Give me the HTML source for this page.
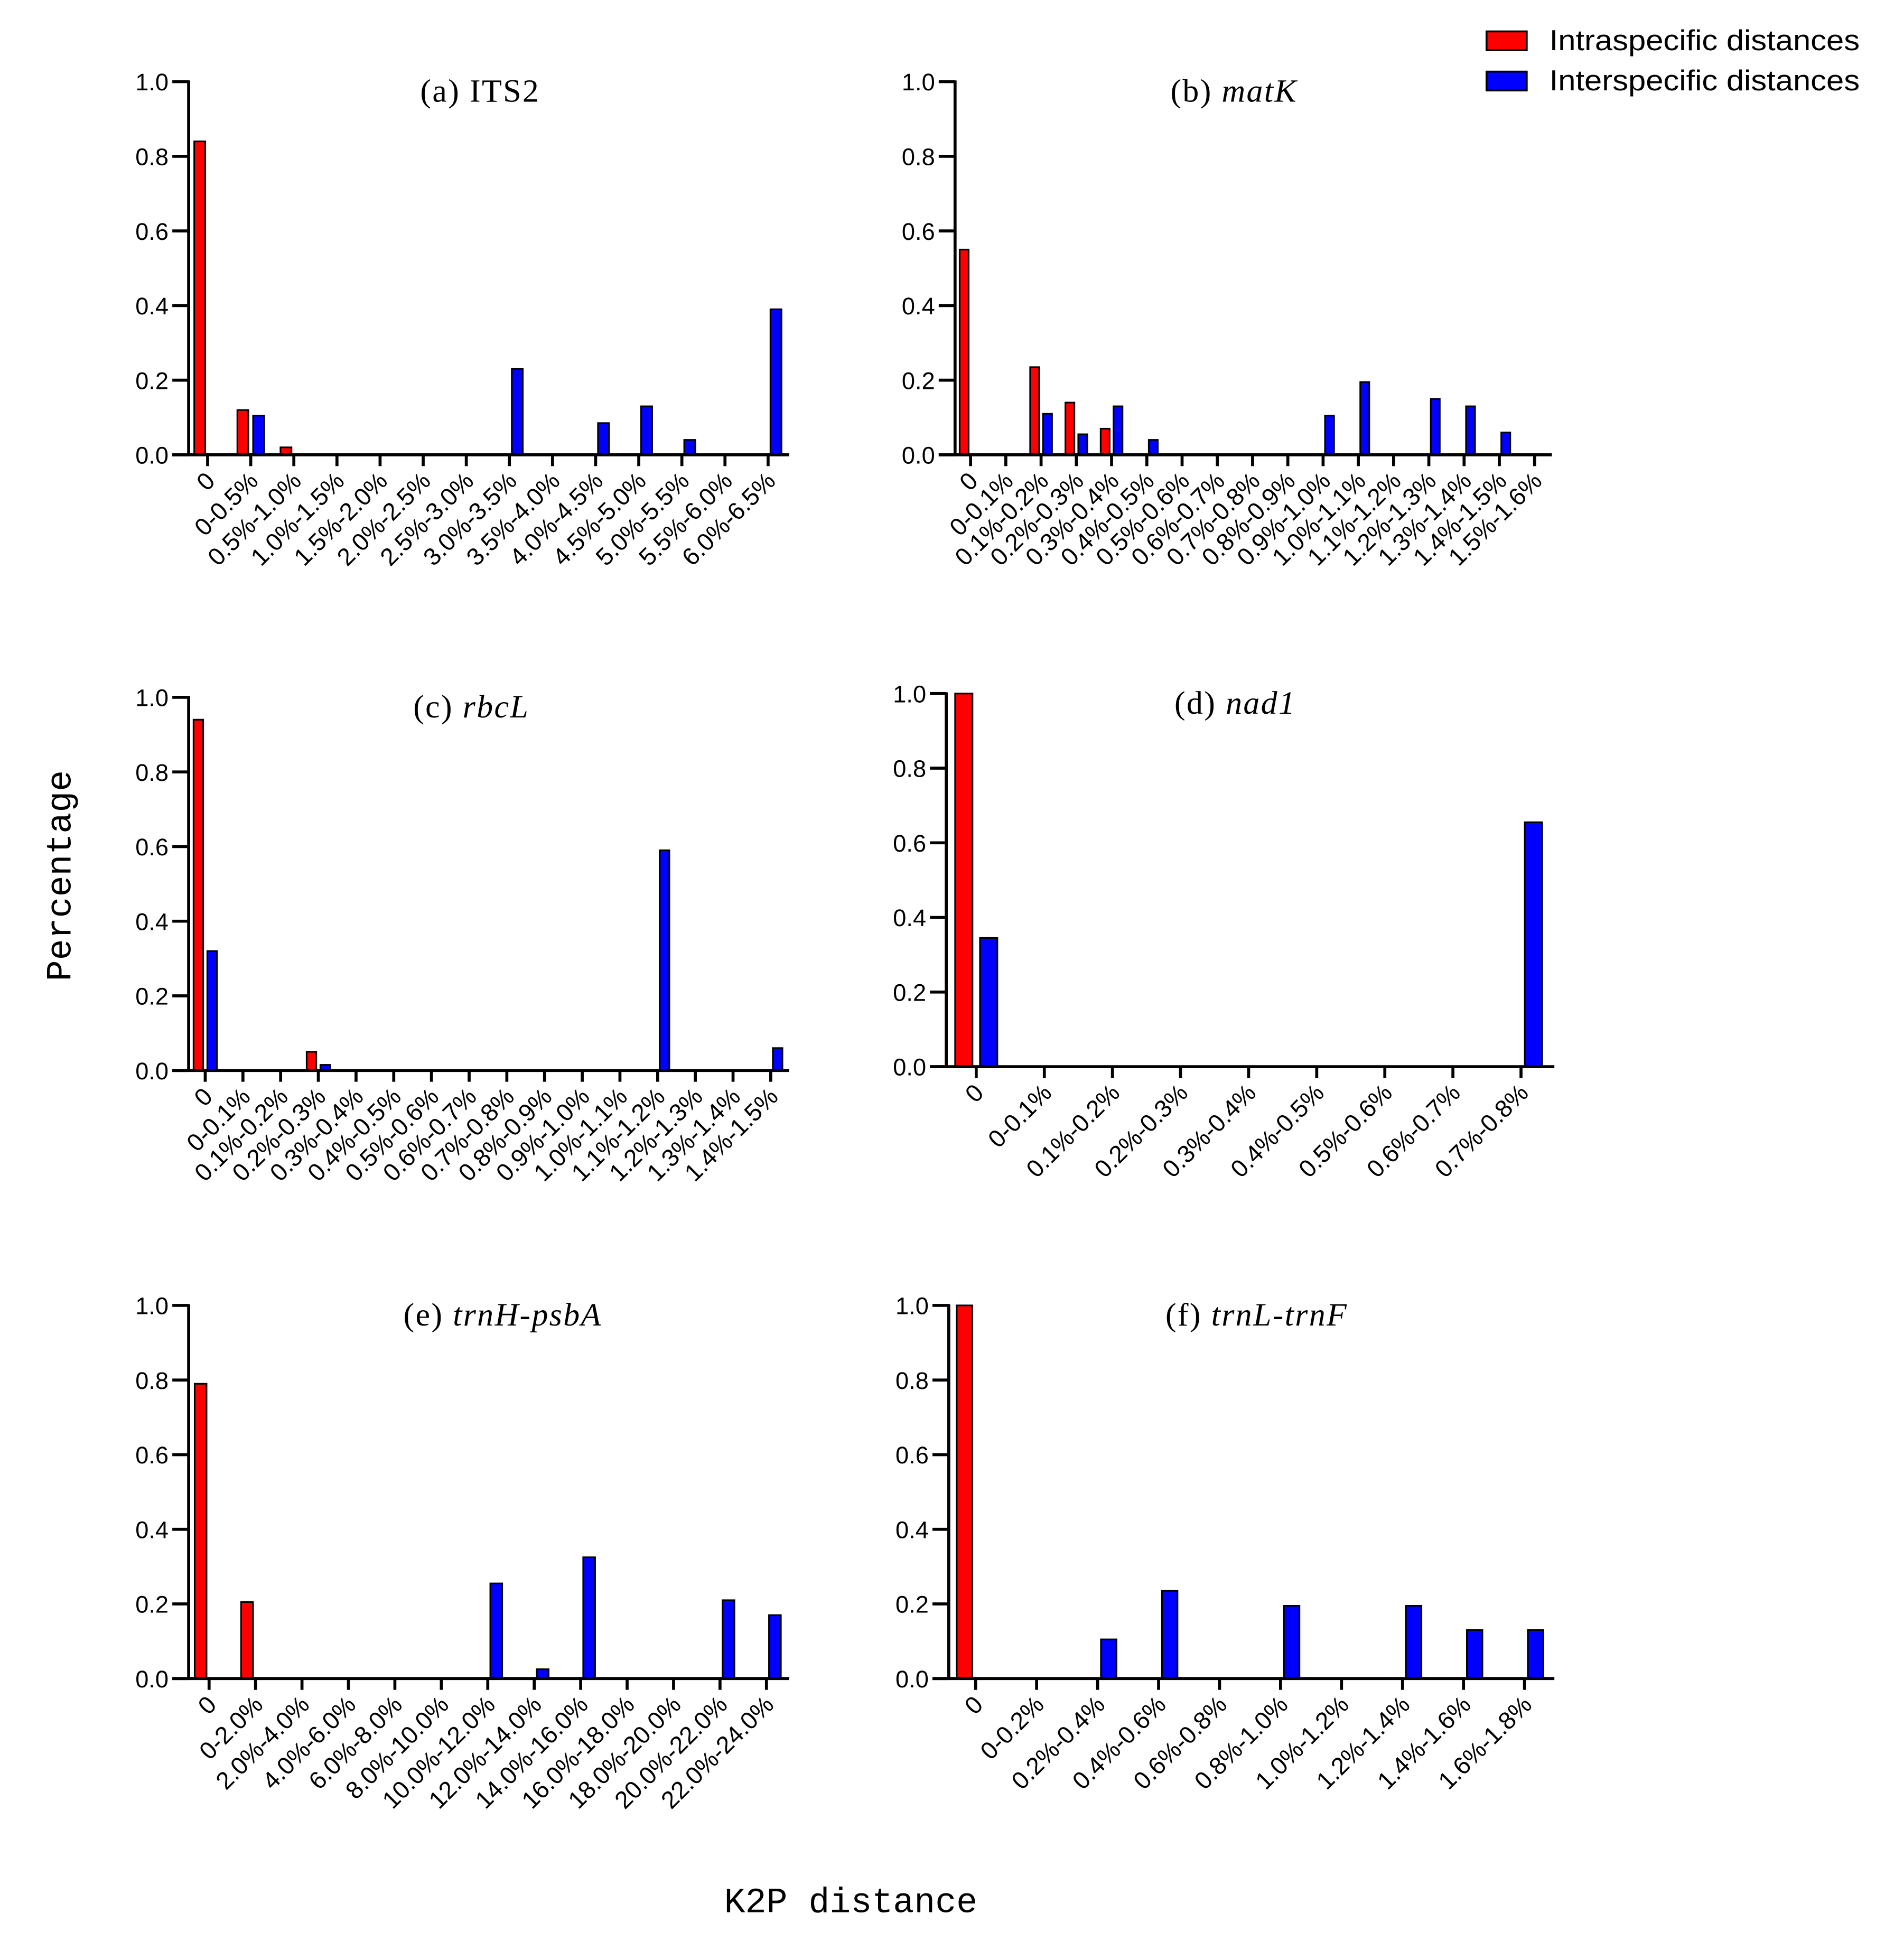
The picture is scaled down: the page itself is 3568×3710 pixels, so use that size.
<!DOCTYPE html>
<html><head><meta charset="utf-8">
<style>
html,body{margin:0;padding:0;background:#fff;}
svg{display:block;}
.tick{font-family:"Liberation Sans",Arial,sans-serif;font-size:19px;fill:#000;}
.xtick{font-family:"Liberation Sans",Arial,sans-serif;font-size:19.5px;fill:#000;}
.title{font-family:"Liberation Serif","Times New Roman",serif;font-size:26px;fill:#000;letter-spacing:1px;}
</style></head>
<body>
<svg id="chart" width="3568" height="3710" viewBox="0 0 1500 1560" xmlns="http://www.w3.org/2000/svg">
<rect x="0" y="0" width="1500" height="1560" fill="#fff"/>
<g id="legend">
  <rect x="1183" y="25" width="32" height="15" fill="#ff0000" stroke="#000" stroke-width="1.5"/>
  <text x="1233" y="40" font-family="'Liberation Sans Narrow','Liberation Sans',sans-serif" font-size="23" textLength="247" lengthAdjust="spacingAndGlyphs">Intraspecific distances</text>
  <rect x="1183" y="57" width="32" height="15" fill="#0000ff" stroke="#000" stroke-width="1.5"/>
  <text x="1233" y="72" font-family="'Liberation Sans Narrow','Liberation Sans',sans-serif" font-size="23" textLength="247" lengthAdjust="spacingAndGlyphs">Interspecific distances</text>
</g>
<text transform="translate(56,697) rotate(-90)" text-anchor="middle" font-family="'Liberation Mono',monospace" font-size="28">Percentage</text>
<text x="677" y="1522" text-anchor="middle" font-family="'Liberation Mono',monospace" font-size="28">K2P distance</text>
</svg>
<script>
// ---- data ----
const catsA = ["0","0-0.5%","0.5%-1.0%","1.0%-1.5%","1.5%-2.0%","2.0%-2.5%","2.5%-3.0%","3.0%-3.5%","3.5%-4.0%","4.0%-4.5%","4.5%-5.0%","5.0%-5.5%","5.5%-6.0%","6.0%-6.5%"];
const intraA = [0.84,0.12,0.02,0,0,0,0,0,0,0,0,0,0,0];
const interA = [0,0.105,0,0,0,0,0,0.23,0,0.085,0.13,0.04,0,0.39];

const catsB = ["0","0-0.1%","0.1%-0.2%","0.2%-0.3%","0.3%-0.4%","0.4%-0.5%","0.5%-0.6%","0.6%-0.7%","0.7%-0.8%","0.8%-0.9%","0.9%-1.0%","1.0%-1.1%","1.1%-1.2%","1.2%-1.3%","1.3%-1.4%","1.4%-1.5%","1.5%-1.6%"];
const intraB = [0.55,0,0.235,0.14,0.07,0,0,0,0,0,0,0,0,0,0,0,0];
const interB = [0,0,0.11,0.055,0.13,0.04,0,0,0,0,0.105,0.195,0,0.15,0.13,0.06,0];

const catsC = ["0","0-0.1%","0.1%-0.2%","0.2%-0.3%","0.3%-0.4%","0.4%-0.5%","0.5%-0.6%","0.6%-0.7%","0.7%-0.8%","0.8%-0.9%","0.9%-1.0%","1.0%-1.1%","1.1%-1.2%","1.2%-1.3%","1.3%-1.4%","1.4%-1.5%"];
const intraC = [0.94,0,0,0.05,0,0,0,0,0,0,0,0,0,0,0,0];
const interC = [0.32,0,0,0.015,0,0,0,0,0,0,0,0,0.59,0,0,0.06];

const catsD = ["0","0-0.1%","0.1%-0.2%","0.2%-0.3%","0.3%-0.4%","0.4%-0.5%","0.5%-0.6%","0.6%-0.7%","0.7%-0.8%"];
const intraD = [1.0,0,0,0,0,0,0,0,0];
const interD = [0.345,0,0,0,0,0,0,0,0.655];

const catsE = ["0","0-2.0%","2.0%-4.0%","4.0%-6.0%","6.0%-8.0%","8.0%-10.0%","10.0%-12.0%","12.0%-14.0%","14.0%-16.0%","16.0%-18.0%","18.0%-20.0%","20.0%-22.0%","22.0%-24.0%"];
const intraE = [0.79,0.205,0,0,0,0,0,0,0,0,0,0,0];
const interE = [0,0,0,0,0,0,0.255,0.025,0.325,0,0,0.21,0.17];

const catsF = ["0","0-0.2%","0.2%-0.4%","0.4%-0.6%","0.6%-0.8%","0.8%-1.0%","1.0%-1.2%","1.2%-1.4%","1.4%-1.6%","1.6%-1.8%"];
const intraF = [1.0,0,0,0,0,0,0,0,0,0];
const interF = [0,0,0.105,0.235,0,0.195,0,0.195,0.13,0.13];

const yTicks = [0,0.2,0.4,0.6,0.8,1.0];

const svg = document.getElementById('chart');
const NS = 'http://www.w3.org/2000/svg';
function mk(tag, attrs){const e=document.createElementNS(NS,tag);for(const k in attrs)e.setAttribute(k,attrs[k]);return e;}

function panel(id, title, italicPart, cats, intra, inter, x0, x1, yTop, yBot, titleX){
  const g = mk('g',{});
  
  
  svg.appendChild(g);
  const n = cats.length;
  const band = (x1 - x0) / (n - 0.07);
  const xC = i => x0 + 0.44*band + i*band;
  const yS = v => yBot - v*(yBot - yTop);
  const bw = 0.255*band, gap = 0.055*band;
  for(let i=0;i<n;i++){
    if(intra[i]>0){
      const r = mk('rect',{x:xC(i)-gap-bw, y:yS(intra[i]), width:bw, height:yBot-yS(intra[i]), fill:'#ff0000', stroke:'#000','stroke-width':1.3});
      
      
      g.appendChild(r);
    }
    if(inter[i]>0){
      const r = mk('rect',{x:xC(i)+gap, y:yS(inter[i]), width:bw, height:yBot-yS(inter[i]), fill:'#0000ff', stroke:'#000','stroke-width':1.3});
      
      
      g.appendChild(r);
    }
  }
  const ya = mk('line',{x1:x0,y1:yTop-1,x2:x0,y2:yBot+1,stroke:'#000','stroke-width':2.4});
  
  
  g.appendChild(ya);
  const xa = mk('line',{x1:x0-13,y1:yBot,x2:x1,y2:yBot,stroke:'#000','stroke-width':2.4});
  
  
  g.appendChild(xa);
  yTicks.forEach(v=>{
    const y = yS(v);
    g.appendChild(mk('line',{x1:x0-13,y1:y,x2:x0,y2:y,stroke:'#000','stroke-width':2.4}));
    const t = mk('text',{x:x0-16,y:y+7,'text-anchor':'end',class:'tick'});
    t.textContent = v.toFixed(1);
    
    
    g.appendChild(t);
  });
  cats.forEach((c,i)=>{
    const x = xC(i);
    g.appendChild(mk('line',{x1:x,y1:yBot,x2:x,y2:yBot+9,stroke:'#000','stroke-width':2.4}));
    const t = mk('text',{transform:`translate(${x+7},${yBot+22}) rotate(-45)`,'text-anchor':'end',class:'xtick'});
    t.textContent = c;
    
    
    g.appendChild(t);
  });
  const tt = mk('text',{x:titleX,y:yTop+16,'text-anchor':'middle',class:'title'});
  
  
  const s1 = mk('tspan',{}); s1.textContent = title + ' ';
  tt.appendChild(s1);
  const s2 = mk('tspan',{'font-style':italicPart[1]?'italic':'normal'}); s2.textContent = italicPart[0];
  tt.appendChild(s2);
  g.appendChild(tt);
}

panel('a','(a)',['ITS2',false],catsA,intraA,interA,150,628,65,362,382);
panel('b','(b)',['matK',true],catsB,intraB,interB,760,1235,65,362,982);
panel('c','(c)',['rbcL',true],catsC,intraC,interC,150,628,555,852,375);
panel('d','(d)',['nad1',true],catsD,intraD,interD,753,1237,552,849,983);
panel('e','(e)',['trnH-psbA',true],catsE,intraE,interE,150,628,1039,1336,400);
panel('f','(f)',['trnL-trnF',true],catsF,intraF,interF,755,1237,1039,1336,1000);
</script>
</body></html>
